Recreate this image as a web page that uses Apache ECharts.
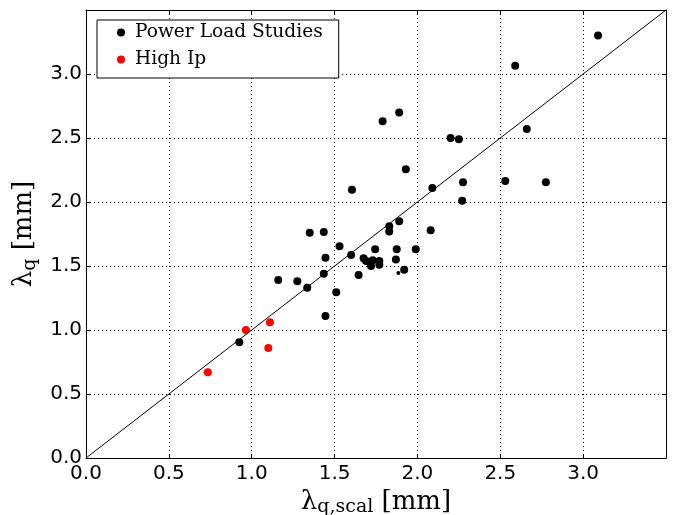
<!DOCTYPE html>
<html>
<head>
<meta charset="utf-8">
<script src="https://cdn.jsdelivr.net/npm/echarts@6/dist/echarts.min.js"></script>
<style>
html,body{margin:0;padding:0;background:#fff;}
#c{width:674px;height:515px;}
</style>
</head>
<body>
<div id="c"></div>
<script>
// ---- data ----
var powerLoadX = [3.09, 2.59, 1.79, 1.89, 2.20, 2.25, 2.66, 1.93, 2.09, 2.275, 2.53, 2.775, 2.27, 1.89, 1.83, 1.83, 2.08, 1.605, 1.35, 1.435, 1.53, 1.445, 1.60, 1.675, 1.69, 1.73, 1.745, 1.77, 1.77, 1.72, 1.875, 1.99, 1.87, 1.92, 1.645, 1.435, 1.335, 1.275, 1.16, 1.51, 1.445, 0.925];
var powerLoadY = [3.30, 3.065, 2.63, 2.70, 2.50, 2.49, 2.57, 2.255, 2.11, 2.155, 2.165, 2.155, 2.01, 1.85, 1.81, 1.77, 1.78, 2.095, 1.76, 1.765, 1.655, 1.565, 1.585, 1.56, 1.54, 1.545, 1.63, 1.54, 1.51, 1.50, 1.63, 1.63, 1.55, 1.47, 1.43, 1.44, 1.33, 1.38, 1.39, 1.295, 1.11, 0.905];
var smallPointX = [1.885];
var smallPointY = [1.445];
var highIpX = [0.965, 1.11, 1.10, 0.735];
var highIpY = [1.00, 1.06, 0.86, 0.67];
var identityLine = [0, 3.5];
var axisMin = 0, axisMax = 3.5, axisStep = 0.5;
var seriesNames = ['Power Load Studies', 'High Ip'];

function pairs(xs, ys){ return xs.map(function(x,i){ return [x, ys[i]]; }); }

var powerData = pairs(powerLoadX, powerLoadY).concat(
  pairs(smallPointX, smallPointY).map(function(p){ return {value: p, symbolSize: 4}; })
);

var tickFont = {fontFamily: 'DejaVu Sans', fontSize: 20, color: '#000'};
var titleRich = {
  a: {fontFamily: 'DejaVu Serif', fontSize: 26, color: '#000', lineHeight: 30},
  b: {fontFamily: 'DejaVu Serif', fontSize: 19, color: '#000', lineHeight: 18, verticalAlign: 'bottom'}
};

function mainAxis(extra){
  return Object.assign({
    type: 'value', min: axisMin, max: axisMax, interval: axisStep,
    axisLine: {show: true, onZero: false, lineStyle: {color: '#000', width: 1}},
    axisTick: {show: true, inside: true, length: 4, lineStyle: {color: '#000'}},
    splitLine: {show: true, lineStyle: {color: '#000', width: 1, type: [1, 3]}},
    nameLocation: 'middle'
  }, extra);
}
function mirrorAxis(extra){
  return Object.assign({
    type: 'value', min: axisMin, max: axisMax, interval: axisStep,
    axisLine: {show: true, onZero: false, lineStyle: {color: '#000', width: 1}},
    axisTick: {show: true, inside: true, length: 4, lineStyle: {color: '#000'}},
    axisLabel: {show: false},
    splitLine: {show: false}
  }, extra);
}

var chart = echarts.init(document.getElementById('c'), null, {renderer: 'canvas'});
chart.setOption({
  animation: false,
  backgroundColor: '#fff',
  grid: {left: 86, right: 8, top: 10, bottom: 57, containLabel: false, outerBoundsMode: 'none'},
  legend: {
    data: seriesNames,
    orient: 'vertical',
    left: 97, top: 20,
    padding: [3, 16, 9, 20],
    itemWidth: 8, itemHeight: 18, itemGap: 8,
    icon: 'circle',
    borderColor: '#000', borderWidth: 1, backgroundColor: '#fff',
    textStyle: {fontFamily: 'DejaVu Serif', fontSize: 18.6, color: '#000', padding: [0, 0, 0, 5]}
  },
  xAxis: [
    mainAxis({
      position: 'bottom',
      axisLabel: Object.assign({margin: 6, showMaxLabel: false, formatter: function(v){ return v.toFixed(1); }}, tickFont),
      name: '{a|λ}{b|q,scal}{a| [mm]}',
      nameGap: 25,
      nameTextStyle: {rich: titleRich}
    }),
    mirrorAxis({position: 'top'})
  ],
  yAxis: [
    mainAxis({
      position: 'left',
      axisLabel: Object.assign({margin: 4, showMaxLabel: false, formatter: function(v){ return v.toFixed(1); }}, tickFont),
      name: '{a|λ}{b|q}{a| [mm]}',
      nameGap: 44,
      nameRotate: 90,
      nameTextStyle: {rich: titleRich}
    }),
    mirrorAxis({position: 'right'})
  ],
  series: [
    {
      name: seriesNames[0], type: 'scatter', symbol: 'circle', symbolSize: 8,
      itemStyle: {color: '#000', opacity: 1},
      data: powerData, z: 3
    },
    {
      name: seriesNames[1], type: 'scatter', symbol: 'circle', symbolSize: 8,
      itemStyle: {color: '#ff0000', opacity: 1},
      data: pairs(highIpX, highIpY), z: 3
    },
    {
      name: 'identity', type: 'line', showSymbol: false, symbol: 'none',
      lineStyle: {color: '#000', width: 1}, silent: true,
      data: identityLine.map(function(v){ return [v, v]; }), z: 4
    }
  ]
});
</script>
</body>
</html>
